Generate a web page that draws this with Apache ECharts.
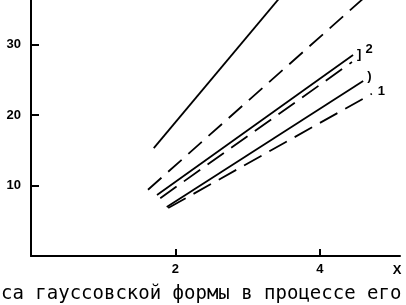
<!DOCTYPE html>
<html>
<head>
<meta charset="utf-8">
<script src="https://cdn.jsdelivr.net/npm/echarts@6/dist/echarts.min.js"></script>
<style>
html,body{margin:0;padding:0;background:#fff;}
#c{width:406px;height:305px;}
</style>
</head>
<body>
<div id="c"></div>
<script>
// Data
const xTickLabels = [2, 4];
const yTickLabels = [10, 20, 30];
const solidTop    = [[1.70, 15.3], [3.50, 37.3]];
const dashedTop   = [[1.62, 9.4], [4.60, 36.5]];
const solidTwo    = [[1.745, 8.65], [4.46, 28.5]];
const dashedTwo   = [[1.79, 8.2], [4.445, 27.5]];
const solidOne    = [[1.88, 6.95], [4.60, 24.8]];
const dashedOne   = [[1.90, 6.8], [4.72, 23.0]];
const caption = 'са гауссовской формы в процессе его';
const xName = 'X';

const black = '#000';
const lbl = {color: black, fontFamily: 'Liberation Sans', fontWeight: 'bold', fontSize: 13};

function line(data, dash, endLabel) {
  const s = {
    type: 'line', data: data, symbol: 'none', clip: true, silent: true,
    lineStyle: {color: black, width: 1.8, type: dash ? dash : 'solid', cap: 'butt'},
    animation: false
  };
  if (endLabel) s.endLabel = endLabel;
  return s;
}

const chart = echarts.init(document.getElementById('c'), null, {renderer: 'canvas'});
chart.setOption({
  animation: false,
  backgroundColor: '#fff',
  grid: {left: 31, right: 6, top: 0, bottom: 49, containLabel: false},
  xAxis: {
    type: 'value', min: 0, max: 5.11, interval: 2,
    name: xName, nameLocation: 'end', nameGap: -3,
    nameTextStyle: Object.assign({}, lbl, {align: 'center', verticalAlign: 'top', padding: [8, 0, 0, 0]}),
    axisLine: {show: true, lineStyle: {color: black, width: 2}},
    axisTick: {show: true, inside: true, length: 7, lineStyle: {color: black, width: 2},
      customValues: xTickLabels},
    axisLabel: Object.assign({}, lbl, {margin: 7,
      customValues: xTickLabels,
      formatter: v => xTickLabels.includes(v) ? String(v) : ''}),
    splitLine: {show: false}
  },
  yAxis: {
    type: 'value', min: 0, max: 36.3, interval: 10,
    axisLine: {show: true, lineStyle: {color: black, width: 2}},
    axisTick: {show: true, inside: true, length: 8, lineStyle: {color: black, width: 2},
      customValues: yTickLabels},
    axisLabel: Object.assign({}, lbl, {margin: 10,
      customValues: yTickLabels,
      formatter: v => yTickLabels.includes(v) ? String(v) : ''}),
    splitLine: {show: false}
  },
  series: [
    line(solidTop),
    line(dashedTop, [18, 9]),
    line(solidTwo, null, {show: true, distance: 4, offset: [0, -1],
      formatter: '{a|]}{b|2}',
      rich: {a: Object.assign({}, lbl, {fontSize: 13}), b: Object.assign({}, lbl, {fontSize: 13, padding: [0, 0, 9, 4]})}}),
    line(dashedTwo, [20, 9]),
    line(solidOne, null, {show: true, distance: 4, offset: [0, -5], formatter: ')',
      color: black, fontFamily: 'Liberation Sans', fontWeight: 'bold', fontSize: 13}),
    line(dashedOne, [20, 9], {show: true, distance: 6, offset: [0, -2], formatter: '1',
      color: black, fontFamily: 'Liberation Sans', fontWeight: 'bold', fontSize: 13})
  ],
  graphic: [{
    type: 'text', left: 1, top: 285, silent: true,
    style: {text: caption, fill: black, font: '19px "DejaVu Sans Mono"'}
  }]
});
</script>
</body>
</html>
